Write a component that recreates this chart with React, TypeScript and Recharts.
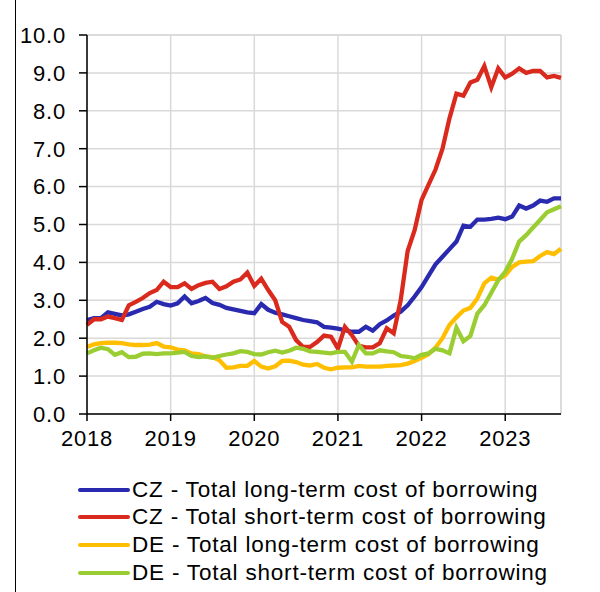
import { LineChart, Line, XAxis, YAxis, CartesianGrid, ReferenceLine } from "recharts";

// monthly observations, Jan 2018 .. Sep 2023
const yearLabels = ["2018", "2019", "2020", "2021", "2022", "2023"];
const yTicks = [0, 1, 2, 3, 4, 5, 6, 7, 8, 9, 10];

const czLong = [
  2.48, 2.53, 2.53, 2.68, 2.64, 2.6, 2.63, 2.7, 2.77, 2.83, 2.96, 2.9,
  2.86, 2.92, 3.1, 2.92, 2.98, 3.06, 2.93, 2.88, 2.8, 2.76, 2.72, 2.68,
  2.66, 2.9, 2.75, 2.67, 2.63, 2.58, 2.53, 2.48, 2.45, 2.42, 2.3, 2.28,
  2.25, 2.21, 2.17, 2.17, 2.3, 2.2, 2.37, 2.47, 2.6, 2.7, 2.87, 3.1,
  3.35, 3.65, 3.95, 4.15, 4.35, 4.55, 4.97, 4.94, 5.13, 5.13, 5.15, 5.18,
  5.14, 5.21, 5.5, 5.42, 5.5, 5.63, 5.6, 5.69, 5.69,
];

const czShort = [
  2.35, 2.5, 2.5, 2.57, 2.53, 2.48, 2.87, 2.96, 3.06, 3.19, 3.27, 3.49,
  3.35, 3.35, 3.45, 3.3, 3.4, 3.46, 3.49, 3.3, 3.37, 3.49, 3.55, 3.73,
  3.38, 3.57, 3.27, 3.0, 2.43, 2.3, 1.95, 1.77, 1.77, 1.9, 2.07, 2.04,
  1.73, 2.3, 2.08, 1.8, 1.76, 1.76, 1.87, 2.26, 2.13, 3.0, 4.3, 4.85,
  5.65, 6.05, 6.45, 7.0, 7.8, 8.45, 8.4, 8.75, 8.82, 9.18, 8.62, 9.12,
  8.88, 8.98, 9.12, 9.0, 9.05, 9.05, 8.88, 8.92, 8.87,
];

const deLong = [
  1.77, 1.84, 1.87, 1.88, 1.88, 1.87, 1.84, 1.82, 1.82, 1.83, 1.87, 1.78,
  1.76, 1.7, 1.68, 1.6, 1.58, 1.52, 1.5, 1.42, 1.22, 1.23, 1.27, 1.27,
  1.4, 1.25, 1.2, 1.26, 1.4, 1.41, 1.37, 1.3, 1.28, 1.32, 1.22, 1.18,
  1.22, 1.23, 1.23, 1.27, 1.25, 1.25, 1.25, 1.27, 1.28, 1.29, 1.33, 1.4,
  1.48, 1.58, 1.75, 2.0, 2.35, 2.55, 2.73, 2.8, 3.05, 3.45, 3.6, 3.55,
  3.66, 3.88, 4.0, 4.02, 4.03, 4.17, 4.27, 4.22, 4.36,
];

const deShort = [
  1.6, 1.68, 1.75, 1.71, 1.56, 1.63, 1.5, 1.51, 1.59, 1.6, 1.58, 1.6,
  1.6, 1.62, 1.64, 1.53, 1.5, 1.52, 1.48, 1.53, 1.57, 1.6, 1.66, 1.64,
  1.58, 1.57, 1.63, 1.67, 1.62, 1.67, 1.75, 1.72, 1.65, 1.64, 1.62, 1.6,
  1.64, 1.64, 1.38, 1.82, 1.6, 1.6, 1.68, 1.65, 1.63, 1.53, 1.51, 1.47,
  1.56, 1.6, 1.72, 1.68, 1.6, 2.28, 1.92, 2.06, 2.65, 2.87, 3.2, 3.53,
  3.75, 4.1, 4.55, 4.72, 4.92, 5.12, 5.32, 5.4, 5.48,
];

const series = [
  { key: "czLong", name: "CZ - Total long-term cost of borrowing", color: "#2a2ab0" },
  { key: "czShort", name: "CZ - Total short-term cost of borrowing", color: "#da2a1e" },
  { key: "deLong", name: "DE - Total long-term cost of borrowing", color: "#ffbe00" },
  { key: "deShort", name: "DE - Total short-term cost of borrowing", color: "#9acd32" },
];

const data = czLong.map((v, i) => ({
  i,
  czLong: v,
  czShort: czShort[i],
  deLong: deLong[i],
  deShort: deShort[i],
}));

const lastIndex = czLong.length - 1;
const font = "'Liberation Sans', Arial, sans-serif";
const tickStyle = { fontSize: 22, fill: "#000", fontFamily: font, letterSpacing: 0.8 };

export default function App() {
  return (
    <div
      style={{
        position: "absolute",
        left: 0,
        top: 0,
        width: 600,
        height: 592,
        background: "#fff",
        fontFamily: font,
      }}
    >
      <div style={{ position: "absolute", left: 15, top: 0, width: 1, height: 592, background: "#000" }} />
      <LineChart
        width={600}
        height={592}
        data={data}
        margin={{ top: 35, right: 39, left: 0, bottom: 0 }}
      >
        <CartesianGrid stroke="#d9d9d9" strokeWidth={1.5} />
        <ReferenceLine x={lastIndex} stroke="#d9d9d9" strokeWidth={1.5} />
        <ReferenceLine y={10} stroke="#d9d9d9" strokeWidth={1.5} />
        <XAxis
          type="number"
          dataKey="i"
          domain={[0, lastIndex]}
          ticks={yearLabels.map((_, k) => k * 12)}
          tickFormatter={(v) => yearLabels[v / 12]}
          height={178}
          tickSize={7}
          tickMargin={9}
          axisLine={{ stroke: "#000", strokeWidth: 1.5 }}
          tickLine={{ stroke: "#000", strokeWidth: 1.5 }}
          tick={tickStyle}
          interval={0}
        />
        <YAxis
          type="number"
          domain={[0, 10]}
          ticks={yTicks}
          tickFormatter={(v) => v.toFixed(1)}
          width={87}
          tickSize={8}
          tickMargin={13}
          axisLine={{ stroke: "#000", strokeWidth: 1.5 }}
          tickLine={{ stroke: "#000", strokeWidth: 1.5 }}
          tick={tickStyle}
          interval={0}
        />
        {series.map((s) => (
          <Line
            key={s.key}
            type="linear"
            dataKey={s.key}
            name={s.name}
            stroke={s.color}
            strokeWidth={4.3}
            dot={false}
            isAnimationActive={false}
          />
        ))}
      </LineChart>
      <div style={{ position: "absolute", left: 78, top: 476 }}>
        {series.map((s) => (
          <div
            key={s.key}
            style={{ display: "flex", alignItems: "center", height: 27.6, whiteSpace: "nowrap" }}
          >
            <span
              style={{
                display: "inline-block",
                width: 52,
                height: 4,
                borderRadius: 2,
                background: s.color,
                marginRight: 2,
              }}
            />
            <span style={{ fontSize: 22.5, letterSpacing: 0.8, color: "#000" }}>{s.name}</span>
          </div>
        ))}
      </div>
    </div>
  );
}
